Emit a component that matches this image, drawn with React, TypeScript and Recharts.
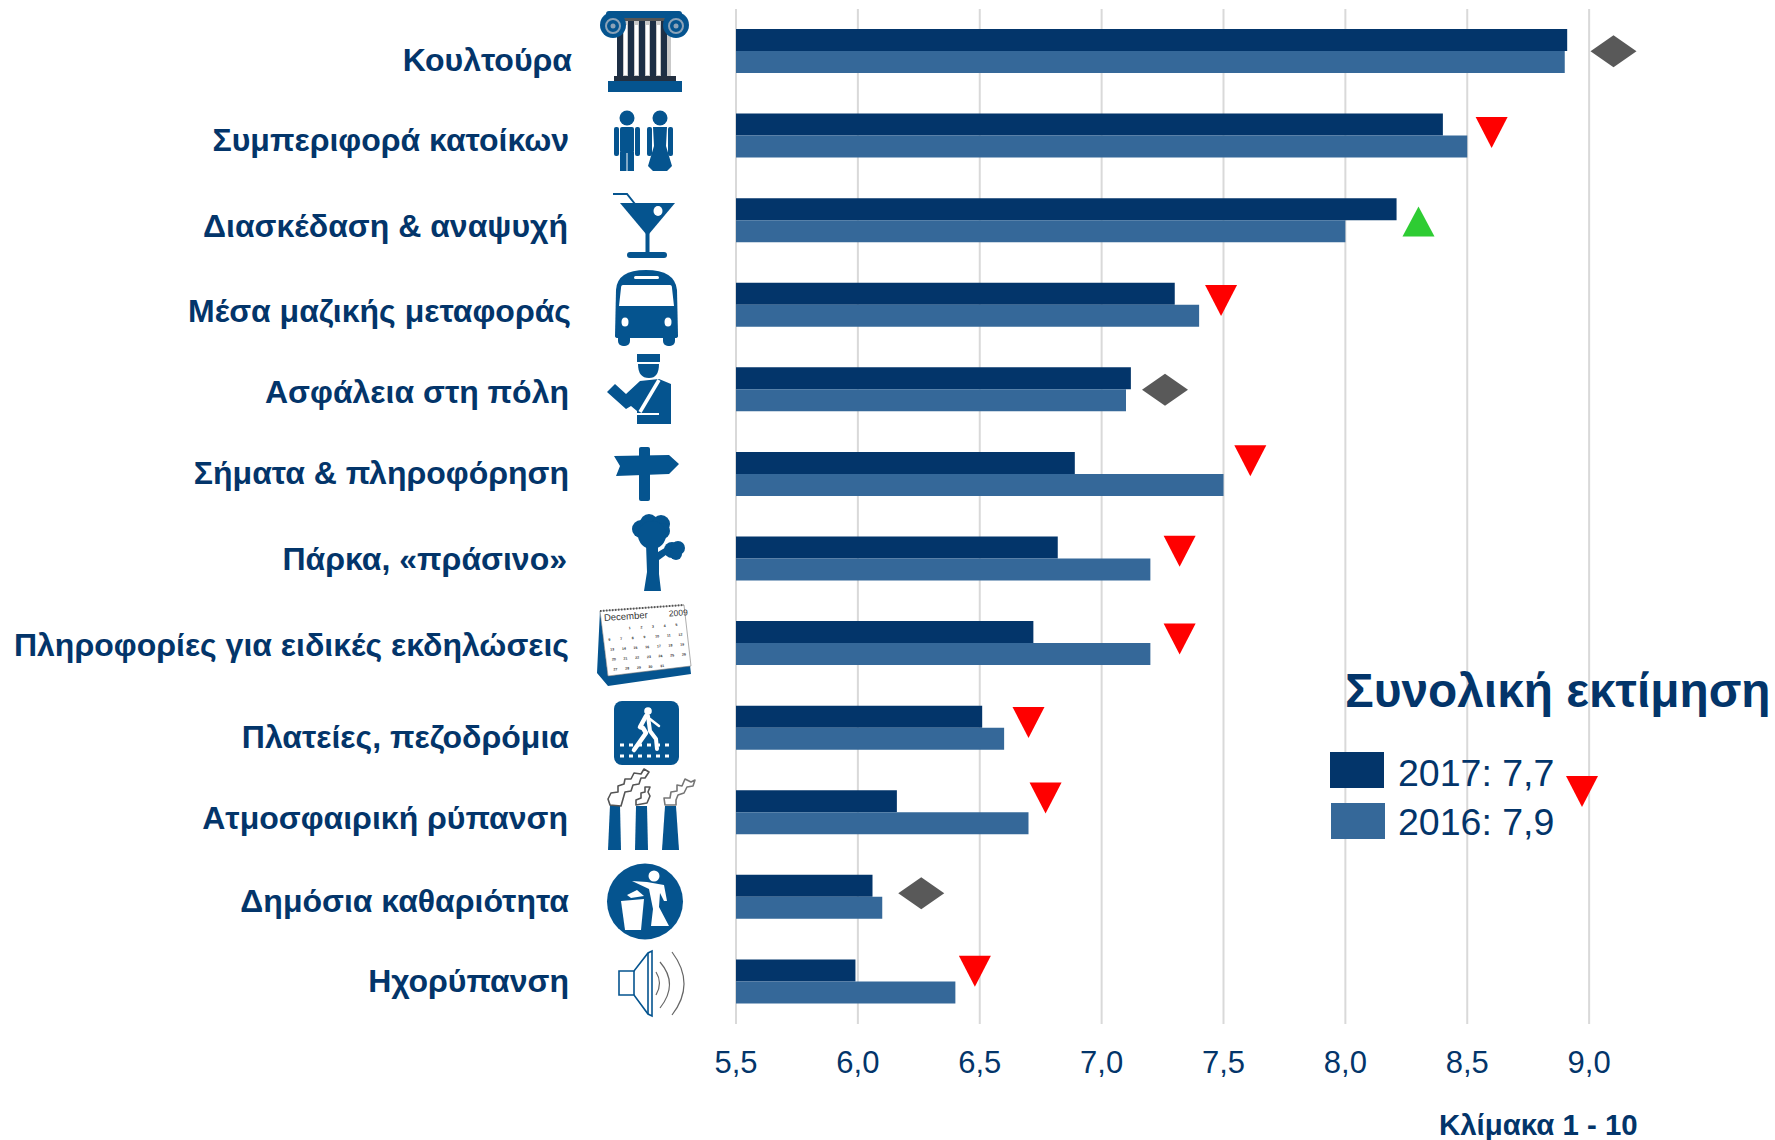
import { Bar, CartesianGrid, ComposedChart, Line, XAxis, YAxis } from "recharts";

const categories = [
  "Κουλτούρα",
  "Συμπεριφορά κατοίκων",
  "Διασκέδαση & αναψυχή",
  "Μέσα μαζικής μεταφοράς",
  "Ασφάλεια στη πόλη",
  "Σήματα & πληροφόρηση",
  "Πάρκα, «πράσινο»",
  "Πληροφορίες για ειδικές εκδηλώσεις",
  "Πλατείες, πεζοδρόμια",
  "Ατμοσφαιρική ρύπανση",
  "Δημόσια καθαριότητα",
  "Ηχορύπανση",
];
const values2017 = [8.91, 8.4, 8.21, 7.3, 7.12, 6.89, 6.82, 6.72, 6.51, 6.16, 6.06, 5.99];
const values2016 = [8.9, 8.5, 8.0, 7.4, 7.1, 7.5, 7.2, 7.2, 6.6, 6.7, 6.1, 6.4];
const markerAt = [9.1, 8.6, 8.3, 7.49, 7.26, 7.61, 7.32, 7.32, 6.7, 6.77, 6.26, 6.48];
const trend = ["flat", "down", "up", "down", "flat", "down", "down", "down", "down", "down", "flat", "down"];
const xTicks = [5.5, 6, 6.5, 7, 7.5, 8, 8.5, 9];
const legendLabels = ["2017: 7,7", "2016: 7,9"];

const chartData = categories.map((name, i) => ({
  name,
  y2017: values2017[i],
  y2016: values2016[i],
  marker: markerAt[i],
  trend: trend[i],
}));

const NAVY = "#03356a";
const STEEL = "#356899";
const ICON = "#05548f";
const FONT = "'Liberation Sans', Arial, sans-serif";

// μετατοπίσεις σε px, όπως στο πρωτότυπο που δεν είναι ευθυγραμμισμένο
const labelNudge = [
  [2, 9], [-1, 4], [-2, 6], [1, 6], [-1, 2], [-1, -1],
  [-3, 0], [-1, 2], [-1, 9], [-2, 5], [-1, 4], [-1, -1],
];
const markerNudge = [0, -4, 1, -5, 0, -14, -8, -5, -6, -15, -4, -11];

function Column() {
  return (
    <g>
      <rect x="17" y="8" width="54" height="58" fill="#c9c9c9" />
      {[17, 28, 39, 50, 61].map((x) => (
        <rect key={x} x={x} y="9" width="6" height="56" fill="#1d2f45" />
      ))}
      {[24, 35, 46, 57].map((x) => (
        <rect key={x} x={x} y="14" width="3" height="50" fill="#fff" />
      ))}
      <rect x="6" y="0" width="76" height="7" rx="3" fill={ICON} />
      <rect x="12" y="7" width="64" height="3" fill="#555" />
      <circle cx="13" cy="14" r="13" fill={ICON} />
      <circle cx="76" cy="14" r="13" fill={ICON} />
      <circle cx="13" cy="15" r="7" fill="none" stroke="#8ca3b8" strokeWidth="2" />
      <circle cx="76" cy="15" r="7" fill="none" stroke="#8ca3b8" strokeWidth="2" />
      <circle cx="13" cy="15" r="2.5" fill="#8ca3b8" />
      <circle cx="76" cy="15" r="2.5" fill="#8ca3b8" />
      <rect x="14" y="65" width="62" height="5" fill="#222f40" />
      <rect x="8" y="70" width="74" height="11" fill={ICON} />
    </g>
  );
}

function Couple() {
  return (
    <g fill={ICON}>
      <circle cx="13" cy="8" r="7.5" />
      <rect x="0" y="17" width="5" height="29" rx="2" />
      <rect x="21" y="17" width="5" height="29" rx="2" />
      <rect x="6" y="17" width="14" height="26" rx="2" />
      <rect x="6" y="42" width="6.5" height="19" />
      <rect x="13.5" y="42" width="6.5" height="19" />
      <circle cx="46" cy="8" r="7.5" />
      <rect x="33" y="17" width="5" height="29" rx="2" />
      <rect x="54" y="17" width="5" height="29" rx="2" />
      <path d="M39 17 L53 17 L52 36 L58 56 L53 61 L39 61 L34 56 L40 36 Z" />
    </g>
  );
}

function Cocktail() {
  return (
    <g>
      <path d="M7 10 L62 10 L36 41 L33 41 Z" fill={ICON} />
      <rect x="32.5" y="40" width="4" height="20" fill={ICON} />
      <rect x="14" y="59" width="40" height="6" rx="3" fill={ICON} />
      <path d="M0 1 L14 1 L22 11" fill="none" stroke={ICON} strokeWidth="2" />
      <ellipse cx="45" cy="18" rx="4.5" ry="5" fill="#fff" />
    </g>
  );
}

function Bus() {
  return (
    <g>
      <rect x="3" y="60" width="12" height="16" rx="5" fill={ICON} />
      <rect x="48" y="60" width="12" height="16" rx="5" fill={ICON} />
      <path d="M1 20 Q2 0 31 0 Q60 0 62 20 L63 66 Q63 68 60 68 L3 68 Q0 68 0 66 Z" fill={ICON} />
      <path d="M8 15 L55 15 Q57 15 57 18 L59 36 L4 36 L6 18 Q6 15 8 15 Z" fill="#fff" />
      <rect x="19" y="6" width="25" height="3" rx="1.5" fill="#fff" />
      <ellipse cx="10" cy="52" rx="3.5" ry="4.5" fill="#fff" />
      <ellipse cx="53" cy="52" rx="3.5" ry="4.5" fill="#fff" />
    </g>
  );
}

function Police() {
  return (
    <g fill={ICON}>
      <rect x="30" y="0" width="23" height="8" />
      <path d="M31 10 L52 10 Q52 24 42 24 Q31 24 31 10 Z" />
      <path d="M0 38 L8 30 L19 40 L33 27 L52 25 L64 30 L64 70 L30 70 L30 57 L24 52 L19 55 Z" />
      <path d="M52 26 L33 58" stroke="#fff" strokeWidth="3.5" />
      <path d="M30 60 L52 60" stroke="#fff" strokeWidth="2" />
    </g>
  );
}

function Sign() {
  return (
    <g fill={ICON}>
      <path d="M0 9 L55 8 L65 17 L55 27 L2 29 L6 19 Z" />
      <rect x="25" y="0" width="11" height="54" rx="2" />
    </g>
  );
}

function Tree() {
  return (
    <g fill={ICON}>
      <circle cx="9" cy="15" r="9" />
      <circle cx="17" cy="9" r="9" />
      <circle cx="29" cy="10" r="9" />
      <circle cx="30" cy="17" r="8" />
      <circle cx="20" cy="21" r="14" />
      <circle cx="40" cy="36" r="8" />
      <circle cx="46" cy="34" r="7" />
      <circle cx="44" cy="40" r="6" />
      <path d="M14 30 L26 30 L26 38 L36 32 L38 38 L27 46 L27 60 L29 77 L12 77 L15 58 Z" />
    </g>
  );
}

const calendarDays = [
  ["1", "2", "3", "4", "5"],
  ["6", "7", "8", "9", "10", "11", "12"],
  ["13", "14", "15", "16", "17", "18", "19"],
  ["20", "21", "22", "23", "24", "25", "26"],
  ["27", "28", "29", "30", "31"],
];

function Calendar() {
  return (
    <g>
      <path d="M3 5 L0 68 L11 81 L94 69 L93 60 L11 71 Z" fill={ICON} />
      <path d="M3 6 L87 0 L94 61 L11 71 Z" fill="#fff" stroke="#777" strokeWidth="0.6" />
      <path d="M3 6 L87 0" stroke="#555" strokeWidth="2" strokeDasharray="1.5 1.5" />
      <g transform="rotate(-4 8 14)" fontFamily={FONT} fill="#333">
        <text x="7" y="16" fontSize="9.5">December</text>
        <text x="72" y="16" fontSize="8.5">2009</text>
        {calendarDays.map((row, r) =>
          row.map((d, c) => (
            <text key={d} x={(r === 0 ? 31 : 9 + r) + c * 11.7} y={26 + r * 10} fontSize="3.6" fontWeight="700">
              {d}
            </text>
          ))
        )}
      </g>
    </g>
  );
}

function Pedestrian() {
  return (
    <g>
      <rect width="65" height="64" rx="8" fill={ICON} />
      <circle cx="34" cy="10" r="3.8" fill="#fff" />
      <path d="M32 15 L26 26 L29 27 L32 32 L20 49" fill="none" stroke="#fff" strokeWidth="4.5" strokeLinecap="round" strokeLinejoin="round" />
      <path d="M34 15 L36 30 L42 38 L43 48" fill="none" stroke="#fff" strokeWidth="4" strokeLinecap="round" strokeLinejoin="round" />
      <path d="M36 18 L45 25" fill="none" stroke="#fff" strokeWidth="2.5" strokeLinecap="round" />
      <path d="M6 44 L58 44 M6 55 L58 55" stroke="#fff" strokeWidth="3" strokeDasharray="4 5" />
    </g>
  );
}

function Chimneys() {
  return (
    <g>
      <path d="M2 36 L12 36 L13 81 L0 81 Z" fill={ICON} />
      <path d="M28 37 L39 37 L40 81 L27 81 Z" fill={ICON} />
      <path d="M57 37 L68 37 L71 81 L54 81 Z" fill={ICON} />
      <path d="M2 36 L0 30 L3 24 L10 23 L10 17 L16 15 L17 10 L23 10 L26 4 L33 5 L36 0 L41 3 L37 9 L33 9 L31 15 L25 16 L23 22 L17 23 L15 30 L13 37 Z" fill="#fff" stroke="#555" strokeWidth="1.6" strokeLinejoin="round" />
      <path d="M28 36 L28 31 L33 29 L33 24 L37 23 L37 18 L42 18 L40 23 L42 27 L39 34 Z" fill="#fff" stroke="#555" strokeWidth="1.6" strokeLinejoin="round" />
      <path d="M57 36 L56 29 L62 29 L63 23 L69 22 L69 16 L74 17 L77 10 L83 13 L87 11 L85 17 L79 18 L76 24 L70 26 L68 31 L68 36 Z" fill="#fff" stroke="#777" strokeWidth="1.6" strokeLinejoin="round" />
    </g>
  );
}

function Litter() {
  return (
    <g>
      <circle cx="38" cy="38.5" r="38" fill={ICON} />
      <circle cx="47" cy="13" r="5.5" fill="#fff" />
      <path d="M25 18 L40 19 L57 22 L60 38 L57 38 L53 30 L52 44 L62 63 L44 63 L46 46 L42 26 Z" fill="#fff" />
      <path d="M14 38 L37 36 L34 67 L18 67 Z" fill="#fff" />
      <path d="M20 32 L30 27 L37 33 L24 35 Z" fill="#fff" />
    </g>
  );
}

function Speaker() {
  return (
    <g fill="none">
      <path d="M0 20 L15 20 L29 2 L33 0 L33 65 L29 63 L15 44 L0 44 Z" fill="#fff" stroke={ICON} strokeWidth="1.6" />
      <path d="M15 20 L15 44 M29 2 L29 63" stroke={ICON} strokeWidth="1.6" />
      <path d="M37 21 Q44 32 37 44" stroke="#666" strokeWidth="1.2" />
      <path d="M41 11 Q60 33 41 57" stroke="#666" strokeWidth="1.2" />
      <path d="M53 1 Q77 33 53 64" stroke="#666" strokeWidth="1.2" />
    </g>
  );
}

const icons = [
  { at: [600, 11], Glyph: Column },
  { at: [614, 110], Glyph: Couple },
  { at: [613, 193], Glyph: Cocktail },
  { at: [615, 270], Glyph: Bus },
  { at: [607, 354], Glyph: Police },
  { at: [614, 447], Glyph: Sign },
  { at: [632, 514], Glyph: Tree },
  { at: [597, 605], Glyph: Calendar },
  { at: [614, 701], Glyph: Pedestrian },
  { at: [608, 769], Glyph: Chimneys },
  { at: [607, 863], Glyph: Litter },
  { at: [619, 951], Glyph: Speaker },
];

function CategoryTick({ y, payload, index }: any) {
  const [dx, dy] = labelNudge[index];
  const { at, Glyph } = icons[index];
  return (
    <g>
      <text x={570 + dx} y={y + dy} textAnchor="end" dominantBaseline="central" fontFamily={FONT} fontSize={32} fontWeight="700" fill={NAVY}>
        {payload.value}
      </text>
      <g transform={`translate(${at[0]} ${at[1]})`}>
        <Glyph />
      </g>
    </g>
  );
}

function TrendDot({ cx, cy, index, payload }: any) {
  const y = cy + markerNudge[index];
  if (payload.trend === "flat") {
    return <path d={`M${cx - 23} ${y} L${cx} ${y - 16} L${cx + 23} ${y} L${cx} ${y + 16} Z`} fill="#595959" />;
  }
  if (payload.trend === "up") {
    return <path d={`M${cx - 16} ${y + 15} L${cx} ${y - 15} L${cx + 16} ${y + 15} Z`} fill="#2ecc33" />;
  }
  return <path d={`M${cx - 16} ${y - 15} L${cx + 16} ${y - 15} L${cx} ${y + 16} Z`} fill="#ff0000" />;
}

export default function App() {
  return (
    <div style={{ position: "absolute", left: 0, top: 0 }}>
      <ComposedChart
        width={1775}
        height={1140}
        data={chartData}
        layout="vertical"
        barSize={22}
        barGap={0}
        margin={{ top: 9, right: 64, bottom: 0, left: 0 }}
      >
        <CartesianGrid horizontal={false} syncWithTicks stroke="#d9d9d9" strokeWidth={2} />
        <XAxis
          type="number"
          domain={[5.5, 9.5]}
          ticks={xTicks}
          height={116}
          axisLine={false}
          tickLine={false}
          tickMargin={21}
          tick={{ fontFamily: FONT, fontSize: 31, fill: NAVY }}
          tickFormatter={(v: number) => v.toFixed(1).replace(".", ",")}
        />
        <YAxis type="category" dataKey="name" width={736} axisLine={false} tickLine={false} interval={0} tick={CategoryTick} />
        <Bar dataKey="y2017" fill={NAVY} isAnimationActive={false} />
        <Bar dataKey="y2016" fill={STEEL} isAnimationActive={false} />
        <Line dataKey="marker" stroke="none" dot={TrendDot} activeDot={false} isAnimationActive={false} />

        <text x={1345} y={707} fontFamily={FONT} fontSize={47.8} fontWeight="700" fill={NAVY}>
          Συνολική εκτίμηση
        </text>
        <rect x={1330} y={752} width={54} height={36} fill={NAVY} />
        <rect x={1331} y={803} width={54} height={36} fill={STEEL} />
        <text x={1398} y={786} fontFamily={FONT} fontSize={37.5} fill={NAVY}>{legendLabels[0]}</text>
        <text x={1398} y={835} fontFamily={FONT} fontSize={37.5} fill={NAVY}>{legendLabels[1]}</text>
        <path d="M1566 776 L1598 776 L1582 807 Z" fill="#ff0000" />
        <text x={1439} y={1135} fontFamily={FONT} fontSize={29.4} fontWeight="700" fill={NAVY}>
          Κλίμακα 1 - 10
        </text>
      </ComposedChart>
    </div>
  );
}
